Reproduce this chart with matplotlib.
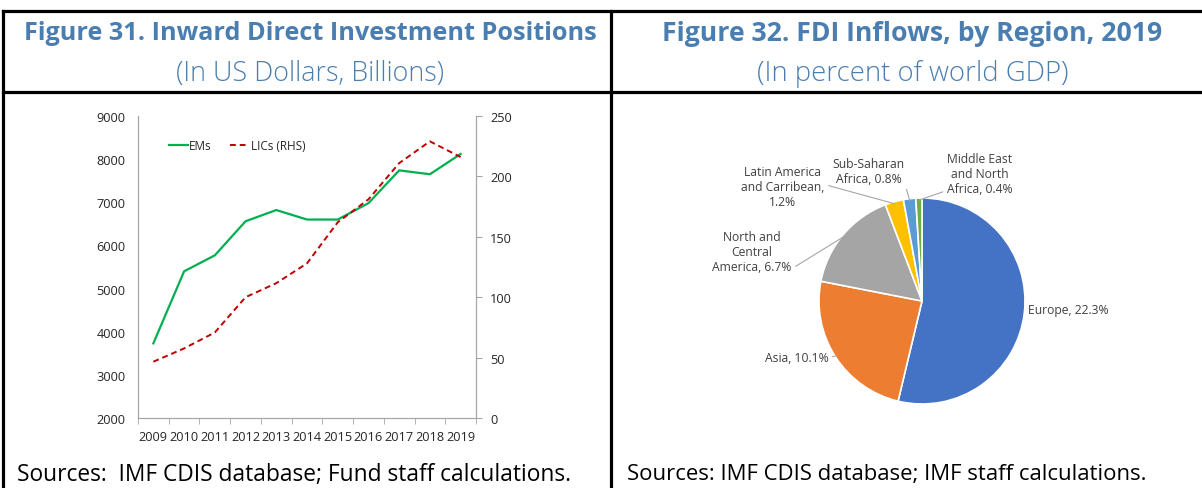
import numpy as np
import matplotlib
matplotlib.use("Agg")
import matplotlib.pyplot as plt
from matplotlib.lines import Line2D

plt.rcParams['font.family'] = ['Open Sans', 'DejaVu Sans']

# Figure 31 data
years = ["2009", "2010", "2011", "2012", "2013", "2014", "2015", "2016", "2017", "2018", "2019"]
ems = [3730, 5400, 5770, 6560, 6820, 6600, 6600, 6980, 7740, 7650, 8120]
lics = [46.6, 57.6, 70.8, 100, 111.6, 128, 162, 181, 211, 229, 216]

# Figure 32 data
regions = ["Europe", "Asia", "North and\nCentral\nAmerica", "Latin America\nand Carribean,\n",
           "Sub-Saharan\nAfrica", "Middle East\nand North\nAfrica"]
shares = [22.3, 10.1, 6.7, 1.2, 0.8, 0.4]
pie_colors = ["#4472C4", "#ED7D31", "#A5A5A5", "#FFC000", "#5B9BD5", "#70AD47"]

W, H = 1202, 489
fig = plt.figure(figsize=(W / 100, H / 100), dpi=100)


def fx(px):
    return px / W


def fy(py):
    return 1 - py / H


title_col = "#4A7EB0"
txt_col = "#404040"

# table borders
for xs, ys in [((3, W), (12, 12)), ((3, W), (93, 93)), ((3, 3), (12, H)), ((611, 611), (12, H))]:
    fig.add_artist(Line2D([fx(x) for x in xs], [fy(y) for y in ys], color="black", lw=2.3,
                          solid_capstyle="projecting"))

fig.text(fx(310), fy(34), "Figure 31. Inward Direct Investment Positions", ha="center", va="center",
         fontsize=18.2, fontweight="bold", color=title_col)
fig.text(fx(310), fy(74), "(In US Dollars, Billions)", ha="center", va="center",
         fontsize=19.4, fontweight="light", color=title_col)
fig.text(fx(912), fy(34), "Figure 32. FDI Inflows, by Region, 2019", ha="center", va="center",
         fontsize=19.2, fontweight="bold", color=title_col)
fig.text(fx(913), fy(74), "(In percent of world GDP)", ha="center", va="center",
         fontsize=19.8, fontweight="light", color=title_col)
fig.text(fx(17), fy(475), "Sources:  IMF CDIS database; Fund staff calculations.", ha="left", va="center",
         fontsize=16.4, color="black")
fig.text(fx(627), fy(475), "Sources: IMF CDIS database; IMF staff calculations.", ha="left", va="center",
         fontsize=15.9, color="black")

# ---- line chart
fs = 9.2
ax = fig.add_axes([fx(138), fy(419), fx(476) - fx(138), fy(117) - fy(419)])
x = np.arange(len(years))
l1, = ax.plot(x, ems, color="#00B050", lw=1.6, label="EMs")
ax.set_ylim(2000, 9000)
ax.set_yticks(range(2000, 9001, 1000))
ax.set_xlim(-0.5, len(years) - 0.5)
ax.set_xticks(x)
ax.set_xticklabels(years)
ax.set_xticks(np.arange(-0.5, len(years), 1), minor=True)
ax.tick_params(axis="x", which="major", length=0, labelsize=fs, colors="#262626", pad=9)
ax.tick_params(axis="x", which="minor", length=4, color="#A6A6A6", direction="out")
ax.tick_params(axis="y", length=0, labelsize=fs, colors="#262626", pad=9)
ax.spines["top"].set_visible(False)
for s in ["left", "bottom", "right"]:
    ax.spines[s].set_color("#A6A6A6")

ax2 = ax.twinx()
l2, = ax2.plot(x, lics, color="#C00000", lw=1.4, ls=(0, (3, 2)), label="LICs (RHS)")
ax2.set_ylim(0, 250)
ax2.set_yticks(range(0, 251, 50))
ax2.tick_params(axis="y", length=4, color="#A6A6A6", labelsize=fs, colors="#262626", pad=6)
ax2.spines["top"].set_visible(False)
for s in ["left", "bottom", "right"]:
    ax2.spines[s].set_color("#A6A6A6")
ax2.legend(handles=[l1, l2], loc="upper left", bbox_to_anchor=(0.06, 0.96), ncol=2, frameon=False,
           fontsize=8.5, handlelength=1.6, handletextpad=0.1, columnspacing=1.6, labelcolor="#262626")

# ---- pie chart
r = 103
axp = fig.add_axes([fx(922 - r), fy(302 + r), 2 * r / W, 2 * r / H])
wedges, _ = axp.pie(shares, colors=pie_colors, startangle=90, counterclock=False, radius=1,
                    wedgeprops=dict(edgecolor="white", linewidth=1.2))
axp.set_xlim(-1, 1)
axp.set_ylim(-1, 1)
axp.axis("off")

labels = [f"{n}, {v}%" if not n.endswith("\n") else f"{n}{v}%" for n, v in zip(regions, shares)]
# (text position, alignment, leader start relpos)
label_pos = [((1.03, -0.08), "left", None),
             ((-0.91, -0.55), "right", (1.0, 0.5)),
             ((-1.65, 0.48), "center", (1.0, 0.1)),
             ((-1.35, 1.11), "center", (1.0, 0.55)),
             ((-0.52, 1.26), "center", (1.0, 0.1)),
             ((0.56, 1.24), "center", (0.0, 0.1))]
for w, lab, (pos, ha, rel) in zip(wedges, labels, label_pos):
    mid = np.deg2rad((w.theta1 + w.theta2) / 2)
    tip = (0.98 * np.cos(mid), 0.98 * np.sin(mid))
    if rel is None:
        axp.text(pos[0], pos[1], lab, ha=ha, va="center", fontsize=8.7, color=txt_col,
                 multialignment="center")
    else:
        axp.annotate(lab, xy=tip, xytext=pos, ha=ha, va="center", fontsize=8.7, color=txt_col,
                     multialignment="center", annotation_clip=False,
                     arrowprops=dict(arrowstyle="-", color="#A6A6A6", lw=0.8, relpos=rel,
                                     shrinkA=1, shrinkB=0))

fig.savefig("out.png", dpi=100)
